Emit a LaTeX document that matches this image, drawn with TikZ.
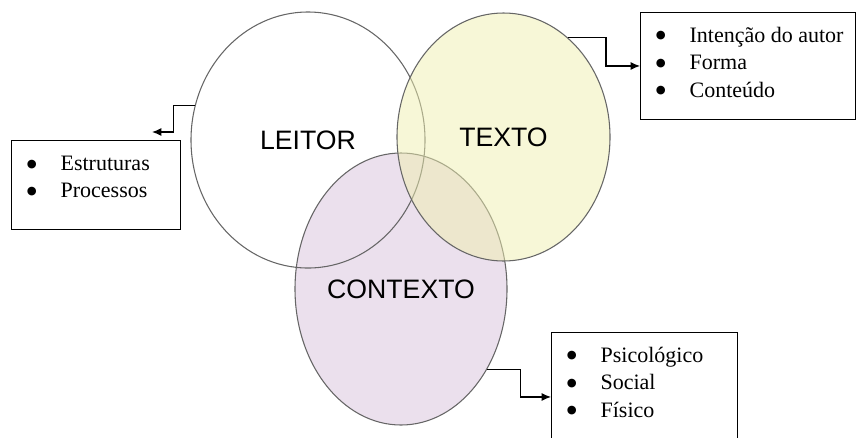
\documentclass[tikz,border=0pt]{standalone}
\usepackage{fontspec}
\setmainfont{Liberation Serif}
\newfontfamily\vennfont{Liberation Sans}
\newfontfamily\dotfont{DejaVu Sans}
\usetikzlibrary{shapes.geometric,arrows.meta}
\definecolor{textoFill}{RGB}{239,239,175}
\definecolor{contextoFill}{RGB}{235,224,237}
\tikzstyle{venn}=[shape = ellipse, draw = black!60, line width = 0.8pt, inner sep = 0pt, font = \vennfont\fontsize{20}{24}\selectfont]
\tikzstyle{listbox}=[shape = rectangle, draw, line width = 0.9pt, inner sep = 0pt, anchor = north west]
\tikzstyle{link}=[line width = 0.9pt, -{Latex[length = 7pt, width = 6pt]}]
\newcommand{\itm}[1]{\par\noindent\strut\makebox[36.75pt][l]{\hspace{11.5pt}\raisebox{2.5pt}{\dotfont\fontsize{8.5}{9}\selectfont ●}}#1}
\newcommand{\lista}[3]{\parbox[c][#2][t]{#1}{\fontsize{16.5}{20.6}\selectfont\vspace*{8pt}#3}}

\begin{document}
\begin{tikzpicture}[x = 0.75pt, y = -0.75pt]
\useasboundingbox (0,0) rectangle (856,437);
% the three ellipses
\node[venn, fill = contextoFill, minimum width = 159pt, minimum height = 204pt] (contexto) at (401,289) {\raisebox{-2pt}{CONTEXTO}};
\node[venn, minimum width = 175.5pt, minimum height = 192pt] (leitor) at (308,140) {\raisebox{-1.5pt}{LEITOR}};
\node[venn, fill = textoFill, fill opacity = 0.5, text opacity = 1, minimum width = 159.75pt, minimum height = 186pt] (texto) at (503.5,137) {TEXTO};
% the lists
\node[listbox] (lbox) at (11,140) {\lista{126.75pt}{66.75pt}{\itm{Estruturas}\itm{Processos}}};
\node[listbox] (tbox) at (640,11.7) {\lista{161.25pt}{80.5pt}{\itm{Intenção do autor}\itm{Forma}\itm{Conteúdo}}};
\node[listbox] (cbox) at (551,331.7) {\lista{139.5pt}{81pt}{\itm{Psicológico}\itm{Social}\itm{Físico}}};
\coordinate (larrow) at (152,132);
% connectors
\draw[link] (leitor.163) -- ++(-21,0) |- (larrow);
\draw[link] (texto.57) -- ++(38,0) |- (tbox.west);
\draw[link] (contexto.-43) -- ++(33,0) |- ([yshift = -8pt]cbox.west);
\end{tikzpicture}
\end{document}
